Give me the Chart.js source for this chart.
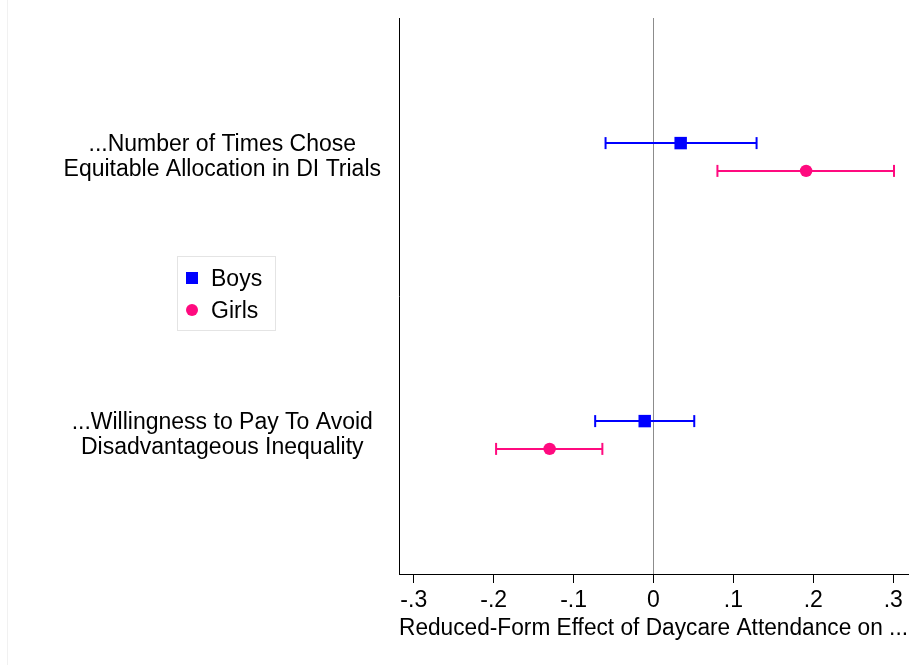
<!DOCTYPE html>
<html>
<head>
<meta charset="utf-8">
<script src="https://cdn.jsdelivr.net/npm/chart.js@4.4.1/dist/chart.umd.min.js"></script>
<style>
  html, body { margin: 0; padding: 0; background: #fff; }
  #wrap { position: relative; width: 919px; height: 665px; }
  #edge { position: absolute; left: 7px; top: 0; width: 1px; height: 665px; background: #f1f1f1; }
  canvas { position: absolute; left: 0; top: 0; }
</style>
</head>
<body>
<div id="wrap">
  <div id="edge"></div>
  <canvas id="chart" width="919" height="665"></canvas>
</div>
<script>
// outcomes (rows) and their position on the y scale
const outcomes = [
    ['...Number of Times Chose', 'Equitable Allocation in DI Trials'],
    ['...Willingness to Pay To Avoid', 'Disadvantageous Inequality']
];
const outcomePos = [1, 2];

// point estimates + confidence intervals
const boysEst  = [0.034, -0.011];
const boysLo   = [-0.060, -0.073];
const boysHi   = [0.129, 0.051];
const girlsEst = [0.191, -0.130];
const girlsLo  = [0.080, -0.197];
const girlsHi  = [0.301, -0.064];

const seriesNames = ['Boys', 'Girls'];
const xTicks = [-0.3, -0.2, -0.1, 0, 0.1, 0.2, 0.3];
const xTickLabels = ['-.3', '-.2', '-.1', '0', '.1', '.2', '.3'];
const xTitle = 'Reduced-Form Effect of Daycare Attendance on ...';

const BLUE = '#0000ff';
const PINK = '#ff0a7f';
const FONT = "'Liberation Sans', Arial, Helvetica, sans-serif";
const FSIZE = 23;
const shift = 0.05; // vertical offset of each series within a row

function pointSet(label, est, dy, color, style, radius) {
    return {
        type: 'scatter',
        label: label,
        data: est.map((v, i) => ({ x: v, y: outcomePos[i] + dy })),
        backgroundColor: color,
        borderColor: color,
        borderWidth: 0,
        pointStyle: style,
        pointRadius: radius,
        pointHoverRadius: radius,
        order: 0
    };
}

function ciSets(lo, hi, dy, color) {
    return lo.map((l, i) => ({
        type: 'line',
        label: 'ci',
        data: [{ x: l, y: outcomePos[i] + dy }, { x: hi[i], y: outcomePos[i] + dy }],
        borderColor: color,
        backgroundColor: color,
        borderWidth: 2,
        pointStyle: 'line',
        pointRotation: 90,
        pointRadius: 6,
        pointBorderWidth: 2,
        pointBorderColor: color,
        fill: false,
        order: 1
    }));
}

const datasets = [
    pointSet(seriesNames[0], boysEst, -shift, BLUE, 'rect', 8.8),
    pointSet(seriesNames[1], girlsEst, shift, PINK, 'circle', 6.2),
    ...ciSets(boysLo, boysHi, -shift, BLUE),
    ...ciSets(girlsLo, girlsHi, shift, PINK)
];

// legend box drawn inside the label area, like the original
const legendBox = {
    id: 'legendBox',
    afterDraw(chart) {
        const ctx = chart.ctx;
        ctx.save();
        ctx.strokeStyle = '#e4e4e4';
        ctx.lineWidth = 1;
        ctx.strokeRect(177.5, 256.5, 98, 74);
        ctx.font = FSIZE + 'px ' + FONT;
        ctx.textBaseline = 'middle';
        ctx.fillStyle = BLUE;
        ctx.fillRect(186, 272, 12, 12);
        ctx.fillStyle = PINK;
        ctx.beginPath();
        ctx.arc(192, 310, 6, 0, Math.PI * 2);
        ctx.fill();
        ctx.fillStyle = '#000';
        ctx.fillText(seriesNames[0], 211, 280);
        ctx.fillText(seriesNames[1], 211, 312);
        ctx.restore();
    }
};

new Chart(document.getElementById('chart'), {
    type: 'scatter',
    data: { datasets: datasets },
    plugins: [legendBox],
    options: {
        responsive: false,
        animation: false,
        layout: { padding: { top: 18, right: 11, bottom: 0, left: 0 } },
        plugins: {
            legend: { display: false },
            tooltip: { enabled: false }
        },
        scales: {
            x: {
                type: 'linear',
                min: -0.3185,
                max: 0.3185,
                afterBuildTicks: s => { s.ticks = xTicks.map(v => ({ value: v })); },
                afterFit: s => { s.height = 91; },
                ticks: {
                    callback: (v, i) => xTickLabels[i],
                    color: '#000',
                    font: { family: FONT, size: FSIZE },
                    padding: 4,
                    maxRotation: 0
                },
                grid: {
                    color: c => (c.tick && c.tick.value === 0 ? '#8c8c8c' : 'rgba(0,0,0,0)'),
                    lineWidth: 1,
                    tickColor: '#000',
                    tickLength: 9,
                    tickWidth: 1
                },
                border: { display: true, color: '#000', width: 1 },
                title: {
                    display: true,
                    text: xTitle,
                    color: '#000',
                    font: { family: FONT, size: 23.5, lineHeight: 1.1 },
                    padding: { top: 0, bottom: 24 }
                }
            },
            y: {
                type: 'linear',
                min: 0.5,
                max: 2.5,
                reverse: true,
                afterBuildTicks: s => { s.ticks = outcomePos.map(v => ({ value: v })); },
                afterFit: s => { s.width = 399; s.paddingTop = 0; s.paddingBottom = 0; },
                ticks: {
                    callback: (v, i) => outcomes[i],
                    color: '#000',
                    font: { family: FONT, size: FSIZE, lineHeight: 1.09 },
                    crossAlign: 'center',
                    padding: 18
                },
                grid: { drawOnChartArea: false, drawTicks: false, color: 'rgba(0,0,0,0)' },
                border: { display: true, color: '#000', width: 1 }
            }
        }
    }
});
</script>
</body>
</html>
